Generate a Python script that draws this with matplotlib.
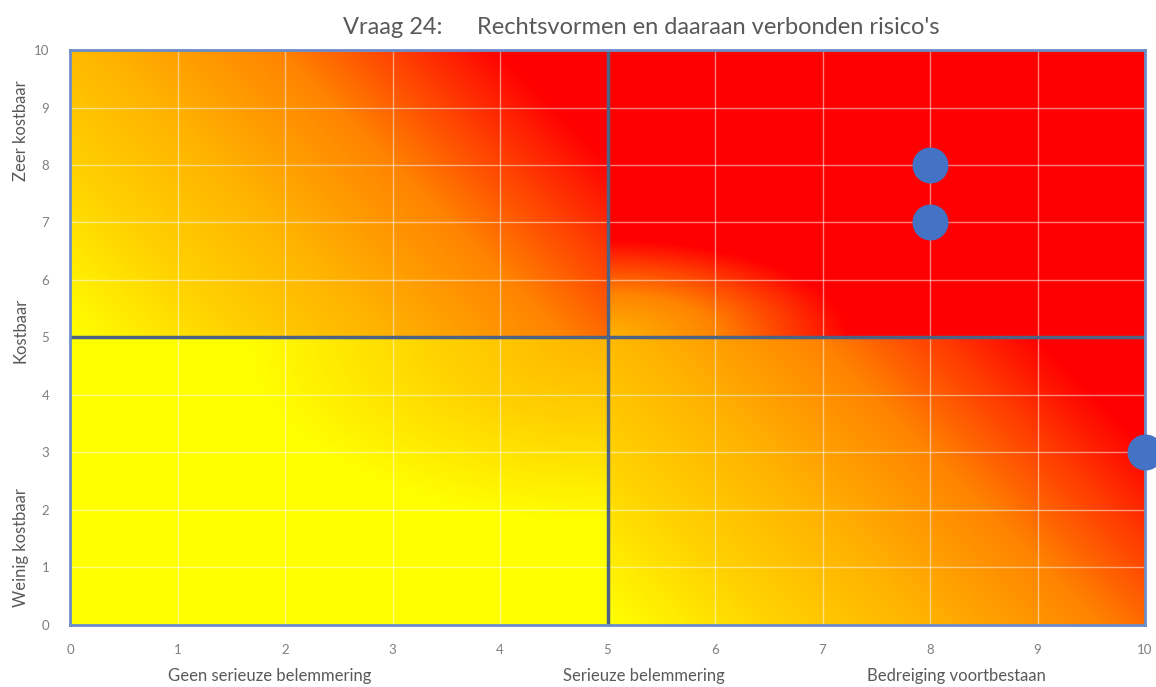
import numpy as np
import matplotlib.pyplot as plt
from matplotlib.colors import LinearSegmentedColormap

plt.rcParams['font.family'] = ['Lato', 'DejaVu Sans']

# answers: impact on the company (x) against cost (y)
impact = [8, 8, 10]
cost = [8, 7, 3]

x_ticks = list(range(0, 11))
y_ticks = list(range(0, 11))

x_categories = ['Geen serieuze belemmering', 'Serieuze belemmering', 'Bedreiging voortbestaan']
y_categories = ['Weinig kostbaar', 'Kostbaar', 'Zeer kostbaar']

title_left = 'Vraag 24:'
title_right = "Rechtsvormen en daaraan verbonden risico's"

#### BACKGROUND ####

risk_cmap = LinearSegmentedColormap.from_list(
    'risk', [(0.0, '#FFFF00'), (0.2, '#FFD200'), (0.38, '#FFB400'), (0.6, '#FF8400'),
             (0.75, '#FF3C00'), (0.87, '#FF0000'), (1.0, '#FF0000')])

QUAD_ASPECT = 1.87  # a quadrant is this much wider than tall on screen


def quadrant(n, kind):
    # local coordinates inside one quadrant, u left->right, v bottom->top
    u = np.linspace(0, 1, n)[None, :]
    v = np.linspace(0, 1, n)[:, None]
    if kind == 'diag':
        # 45 degree gradient in screen space
        t = (u * QUAD_ASPECT + v) / (QUAD_ASPECT + 1)
    elif kind == 'low':
        d = np.sqrt(((1 - u) / 0.68) ** 2 + ((1 - v) / 0.65) ** 2)
        t = 0.38 * np.clip(1 - d, 0, 1)
    else:
        d = np.sqrt((u / 0.45) ** 2 + (v / 0.34) ** 2)
        t = 0.38 + 0.49 * np.clip(d, 0, 1)
    return risk_cmap(t)[..., :3]


n = 300
bottom = np.hstack([quadrant(n, 'low'), quadrant(n, 'diag')])
top = np.hstack([quadrant(n, 'diag'), quadrant(n, 'high')])
background = np.vstack([bottom, top])

#### PLOT ####

fig = plt.figure(figsize=(11.56, 6.87), dpi=100)
ax = fig.add_axes([0.0606, 0.0903, 0.9299, 0.8369])

ax.imshow(background, extent=[0, 10, 0, 10], origin='lower', aspect='auto',
          interpolation='bilinear', zorder=0)

ax.set_xlim(0, 10)
ax.set_ylim(0, 10)
ax.set_xticks(x_ticks)
ax.set_yticks(y_ticks)
ax.grid(True, color='white', alpha=0.5, lw=1)
ax.tick_params(length=0, labelsize=9.5, labelcolor='#7F7F7F')
ax.tick_params(axis='x', pad=14)
ax.tick_params(axis='y', pad=15)

for side in ax.spines.values():
    side.set_color('#6A8CC8')
    side.set_linewidth(2)

# quadrant dividers
ax.axhline(5, color='#4E6284', lw=2.5, zorder=2)
ax.axvline(5, color='#4E6284', lw=2.5, zorder=2)

ax.scatter(impact, cost, s=620, color='#4472C4', zorder=3, clip_on=False)

# category texts under / beside the axes
for label, xpos in zip(x_categories, [1.86, 5.34, 8.25]):
    ax.text(xpos, -0.88, label, ha='center', va='center', fontsize=12,
            color='#595959', clip_on=False)
for label, ypos in zip(y_categories, [1.34, 5.13, 8.6]):
    fig.text(0.018, ax.transData.transform((0, ypos))[1] / fig.bbox.height, label,
             rotation=90, ha='center', va='center', fontsize=12, color='#595959')

fig.text(343 / 1156, 1 - 27 / 687, title_left, ha='left', va='center',
         fontsize=17, color='#595959')
fig.text(477 / 1156, 1 - 27 / 687, title_right, ha='left', va='center',
         fontsize=17, color='#595959')

plt.savefig('out.png', dpi=100)
plt.close()
